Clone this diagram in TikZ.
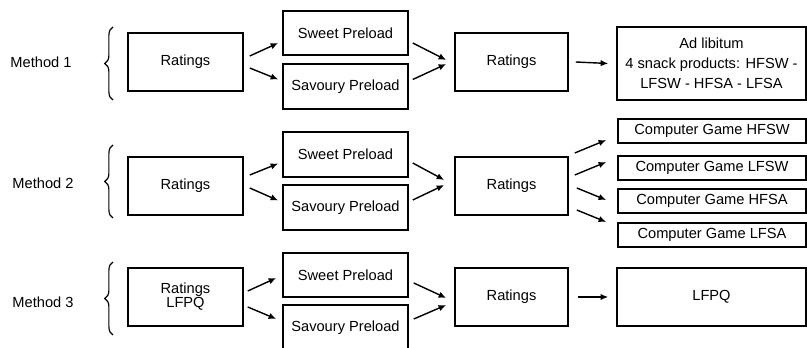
\documentclass[tikz,border=0pt]{standalone}
\usepackage{fontspec}
\setmainfont{Liberation Sans}
\usetikzlibrary{calc,arrows.meta,decorations.pathreplacing}
\tikzset{
box/.style={draw, line width=1.3pt, align=center, inner sep=1pt,
	font=\fontsize{12.5}{15}\selectfont},
ratbox/.style={box, minimum width=3.45cm, minimum height=1.74cm},
midbox/.style={box, minimum width=3.39cm, minimum height=1.74cm},
preload/.style={box, minimum width=3.75cm, minimum height=1.335cm},
outbox/.style={box, minimum width=5.67cm, minimum height=#1},
gamebox/.style={box, minimum width=5.64cm, minimum height=0.72cm},
method/.style={font=\fontsize{12.5}{15}\selectfont},
arr/.style={-{Latex[length=6.5pt,width=5.5pt]}, line width=1.2pt},
methodbrace/.style={decorate, decoration={brace, amplitude=7pt}, line width=1pt}
}

\begin{document}
\begin{tikzpicture}[x=0.03cm, y=-0.03cm]
	\useasboundingbox (0,0) rectangle (807,348);
	% method 1
	\node[method] (m1) at (41,62) {Method 1};
	\draw[methodbrace] (113,100) -- (113,27);
	\node[ratbox] (r1a) at (185.5,62) {Ratings};
	\node[preload] (sw1) at (345.5,33) {Sweet Preload};
	\node[preload] (sv1) at (345.5,86.5) {Savoury Preload};
	\node[midbox] (r1b) at (511.5,62) {Ratings};
	\node[outbox=2.19cm, font=\fontsize{12.5}{17}\selectfont] (ad1) at (711.5,63.5)
		{Ad libitum\\4 snack products: HFSW -\\LFSW - HFSA - LFSA};
	\draw[arr] ($(r1a.east)+(6,-6)$) -- ($(sw1.west)+(-4,10)$);
	\draw[arr] ($(r1a.east)+(6,6)$) -- ($(sv1.west)+(-4,-7)$);
	\draw[arr] ($(sw1.east)+(4,10)$) -- ($(r1b.west)+(-8,-2)$);
	\draw[arr] ($(sv1.east)+(4,-7)$) -- ($(r1b.west)+(-8,2)$);
	\draw[arr] ($(r1b.east)+(7,0)$) -- ($(ad1.west)+(-8,0)$);
	% method 2
	\node[method] (m2) at (43,183) {Method 2};
	\draw[methodbrace] (113,218) -- (113,145);
	\node[ratbox] (r2a) at (185.5,186) {Ratings};
	\node[preload] (sw2) at (345.5,154.5) {Sweet Preload};
	\node[preload] (sv2) at (345.5,207.5) {Savoury Preload};
	\node[midbox] (r2b) at (511.5,186) {Ratings};
	\node[gamebox] (cg1) at (712,131) {Computer Game HFSW};
	\node[gamebox] (cg2) at (712,168) {Computer Game LFSW};
	\node[gamebox] (cg3) at (712,201) {Computer Game HFSA};
	\node[gamebox] (cg4) at (712,235) {Computer Game LFSA};
	\draw[arr] ($(r2a.east)+(6,-11)$) -- ($(sw2.west)+(-4,9)$);
	\draw[arr] ($(r2a.east)+(6,2)$) -- ($(sv2.west)+(-4,-7)$);
	\draw[arr] ($(sw2.east)+(4,8.5)$) -- ($(r2b.west)+(-10,-6)$);
	\draw[arr] ($(sv2.east)+(4,-7.5)$) -- ($(r2b.west)+(-10,-1)$);
	\draw[arr] ($(r2b.east)+(6,-33)$) -- ($(cg1.west)+(-11,9)$);
	\draw[arr] ($(r2b.east)+(6,-11)$) -- ($(cg2.west)+(-11,-6)$);
	\draw[arr] ($(r2b.east)+(8,2)$) -- ($(cg3.west)+(-11,-1)$);
	\draw[arr] ($(r2b.east)+(8,24)$) -- ($(cg4.west)+(-11,-13)$);
	% method 3
	\node[method] (m3) at (43,302) {Method 3};
	\draw[methodbrace] (113,335) -- (113,262);
	\node[ratbox, font=\fontsize{12.5}{12}\selectfont] (r3a) at (185.5,297) {Ratings\\LFPQ};
	\node[preload] (sw3) at (345.5,275) {Sweet Preload};
	\node[preload] (sv3) at (345.5,327.5) {Savoury Preload};
	\node[midbox] (r3b) at (511.5,297) {Ratings};
	\node[outbox=1.74cm] (lf3) at (711.5,297) {LFPQ};
	\draw[arr] ($(r3a.east)+(4,-6)$) -- ($(sw3.west)+(-6,3)$);
	\draw[arr] ($(r3a.east)+(4,10)$) -- ($(sv3.west)+(-6,-8.5)$);
	\draw[arr] ($(sw3.east)+(5,8)$) -- ($(r3b.west)+(-8,1)$);
	\draw[arr] ($(sv3.east)+(5,-8.5)$) -- ($(r3b.west)+(-8,8)$);
	\draw[arr] ($(r3b.east)+(9,0)$) -- ($(lf3.west)+(-8,0)$);
\end{tikzpicture}
\end{document}
